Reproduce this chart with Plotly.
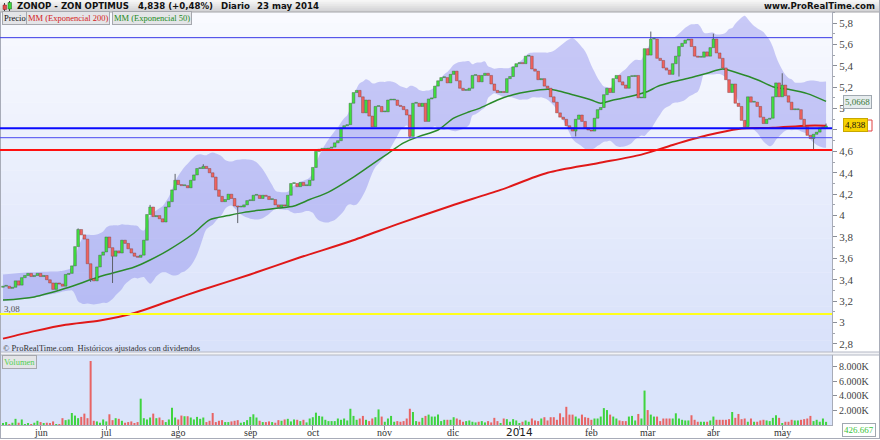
import numpy as np
import pandas as pd
import plotly.graph_objects as go

# ---------------- data ----------------
closes = [
    3.34, 3.34, 3.32, 3.33, 3.39, 3.35, 3.42, 3.44, 3.46, 3.43,
    3.44, 3.46, 3.43, 3.44, 3.40, 3.37, 3.31, 3.37, 3.36, 3.34,
    3.45, 3.46, 3.53, 3.71, 3.87, 3.82, 3.78, 3.55, 3.41, 3.39,
    3.52, 3.63, 3.66, 3.80, 3.70, 3.62, 3.67, 3.65, 3.77, 3.74,
    3.69, 3.65, 3.62, 3.61, 3.63, 3.77, 4.01, 4.08, 3.99, 4.00,
    3.97, 3.94, 4.08, 4.13,
    4.24, 4.33, 4.29, 4.28, 4.28, 4.26, 4.33, 4.38, 4.44, 4.44,
    4.46, 4.44, 4.40, 4.36, 4.24, 4.18, 4.13, 4.15, 4.20, 4.16,
    4.09, 4.08, 4.08, 4.10, 4.14, 4.14, 4.19, 4.19, 4.16, 4.19,
    4.18, 4.15, 4.15, 4.10, 4.08, 4.10, 4.09, 4.19, 4.30, 4.30,
    4.27, 4.31, 4.28, 4.28, 4.33, 4.45, 4.60, 4.62, 4.62, 4.62,
    4.63,
    4.64, 4.68, 4.70, 4.82, 4.84, 4.85, 5.05, 5.15, 5.17, 5.11,
    4.96, 5.08, 4.93, 4.83, 5.02, 5.02, 4.97, 4.97, 5.08, 5.08,
    5.08, 5.03, 5.02, 4.99, 4.94, 4.74, 5.05, 5.05, 5.02, 5.05,
    4.88, 5.09, 5.10, 5.21, 5.26, 5.29, 5.29, 5.24, 5.32, 5.35,
    5.26, 5.19, 5.17, 5.17, 5.19, 5.31, 5.31, 5.25, 5.31, 5.33,
    5.31, 5.23, 5.17, 5.15, 5.16, 5.15, 5.28, 5.30, 5.39, 5.42,
    5.43, 5.42, 5.49, 5.49, 5.37, 5.35, 5.27, 5.28, 5.21, 5.19,
    5.11, 5.06, 4.96, 4.92, 4.90, 4.84, 4.82, 4.79, 4.90, 4.94,
    4.88, 4.82, 4.80, 4.79, 4.91, 4.99, 5.01, 5.13, 5.19, 5.15,
    5.28, 5.31, 5.25, 5.22, 5.19, 5.30, 5.30, 5.31, 5.10, 5.10,
    5.56, 5.50, 5.65, 5.65, 5.47, 5.45, 5.38, 5.36, 5.32, 5.42,
    5.49, 5.58, 5.61, 5.64, 5.65, 5.58, 5.49, 5.48, 5.48, 5.53,
    5.49, 5.57, 5.65, 5.52, 5.47, 5.38, 5.27, 5.15, 5.23, 5.05,
    5.02, 4.89, 4.83, 5.11, 5.06, 5.06, 5.02, 4.92, 4.86, 4.90,
    4.91, 5.11, 5.24, 5.11, 5.22, 5.12, 5.06, 4.99, 4.99, 4.99,
    4.90, 4.83, 4.75, 4.72, 4.76, 4.78, 4.82, 4.82, 4.838,
]
first_open = 3.33
# notable wicks: index -> value
wick_high = {55: 4.39, 207: 5.72, 227: 5.70, 249: 5.33, 263: 4.86, 24: 3.88, 47: 4.10, 64: 4.48}
wick_low = {35: 3.37, 75: 3.93, 259: 4.61, 130: 4.72, 216: 5.30, 28: 3.38, 183: 4.74}

volumes_k = [
    222, 400, 133, 310, 842, 310, 754, 133, 222, 133,
    310, 576, 400, 222, 310, 222, 488, 133, 133, 931,
    665, 754, 1640, 1286, 931, 1108, 1552, 931, 8734, 576,
    488, 310, 754, 488, 1463, 665, 931, 842, 576, 310,
    400, 488, 222, 400, 3591, 931, 754, 1020, 1552, 931,
    1020, 665, 400, 754, 2350, 1020, 754, 1286, 1197, 1197,
    1020, 754, 1108, 842, 1020, 400, 576, 1640, 400, 576,
    665, 400, 400, 488, 576, 665, 310, 400, 665, 1108,
    1463, 1020, 576, 400, 400, 488, 400, 310, 665, 576,
    754, 842, 488, 754,
    709, 532, 709, 354, 886, 1063, 1683, 1240, 1152, 709,
    532, 532, 532, 886, 709, 886, 620, 2215, 1240, 709,
    886, 1240, 709, 532, 886, 1063, 2126, 1152, 443, 886,
    1240, 443, 532, 443, 532, 886, 2215, 1772, 532, 443,
    975, 1240, 1418, 1152, 1152, 1418, 532, 709, 709, 709,
    1063, 886, 709, 443, 532, 620, 443, 354, 443, 532,
    354, 532, 354, 975, 532, 177, 886, 797, 443, 797,
    620, 266, 443, 620, 443, 886, 620, 532, 886, 1063,
    620, 1063,
    1063, 709, 1595, 1063, 2481, 1418, 1418, 1152, 886, 1418,
    1063, 975, 709, 886, 886, 1152, 2304, 2038, 1418, 1152,
    886, 620, 532, 532, 1152, 1240, 620, 1506, 886, 4696,
    2038, 1418, 1152, 1152, 532, 886, 886, 886, 886, 1595,
    886, 709, 620, 620, 1329, 709, 443, 443, 443, 443,
    620, 1152, 709, 709, 709, 709, 797, 1772, 975, 1506,
    797, 886, 443, 886, 443, 443, 620, 709, 620, 532,
    975, 1329, 975, 177, 443, 443, 709, 620, 620, 709,
    797, 886, 1240, 532, 709, 443, 886, 426.667,
]

# moving averages (candle index, value)
ema200_idx = [0, 10, 20, 31, 42, 53, 63, 79, 95, 111, 127, 143, 159, 174, 190, 204, 214, 225, 235, 246, 257, 263]
ema200_val = [2.85, 2.92, 2.98, 3.02, 3.09, 3.20, 3.30, 3.45, 3.61, 3.76, 3.93, 4.09, 4.24, 4.40, 4.49, 4.57, 4.66, 4.75, 4.81, 4.82, 4.84, 4.84]
ema50_idx = [0, 10, 20, 31, 42, 47, 53, 61, 66, 72, 77, 82, 88, 93, 98, 104, 112, 117, 123, 128, 133, 139, 144,
             149, 152, 158, 163, 168, 174, 177, 182, 188, 191, 195, 200, 206, 209, 214, 220, 225, 230, 235, 241,
             246, 251, 257, 263]
ema50_val = [3.21, 3.24, 3.32, 3.43, 3.52, 3.585, 3.68, 3.835, 3.96, 4.00, 4.03, 4.05, 4.07, 4.09, 4.15, 4.22, 4.36,
             4.46, 4.58, 4.68, 4.74, 4.80, 4.91, 4.97, 5.00, 5.08, 5.13, 5.16, 5.18, 5.17, 5.13, 5.08, 5.05, 5.08,
             5.11, 5.16, 5.205, 5.25, 5.29, 5.33, 5.37, 5.33, 5.27, 5.205, 5.18, 5.14, 5.067]

# band (Bollinger 20) before enough history
early_band_idx = [0, 9, 18]
early_upper = [3.45, 3.47, 3.48]
early_lower = [3.20, 3.23, 3.28]

# horizontal drawn lines
line_top_blue = 5.663
line_thick_blue = 4.816
line_thin_blue = 4.728
line_red = 4.613
line_yellow = 3.08

tick_idx = [12, 33, 56, 79, 99, 122, 144, 165, 188, 206, 227, 249]
tick_labels = ["jun", "jul", "ago", "sep", "oct", "nov", "dic", "2014", "feb", "mar", "abr", "may"]
price_ticks = [2.8, 3.0, 3.2, 3.4, 3.6, 3.8, 4.0, 4.2, 4.4, 4.6, 4.8, 5.0, 5.2, 5.4, 5.6, 5.8]
price_tick_text = ["2,8", "3", "3,2", "3,4", "3,6", "3,8", "4", "4,2", "4,4", "4,6", "", "5", "5,2", "5,4", "5,6", "5,8"]
vol_ticks = [2000, 4000, 6000, 8000]
vol_tick_text = ["2.000K", "4.000K", "6.000K", "8.000K"]

# ---------------- derived ----------------
n = len(closes)
idx = list(range(n))
opens = [first_open] + closes[:-1]
highs = [max(o, c) for o, c in zip(opens, closes)]
lows = [min(o, c) for o, c in zip(opens, closes)]
for k, v in wick_high.items():
    if k < n:
        highs[k] = max(highs[k], v)
for k, v in wick_low.items():
    if k < n:
        lows[k] = min(lows[k], v)
up = [c >= o for o, c in zip(opens, closes)]
body_colors = ["#3fe03f" if u else "#f0625e" for u in up]
edge_colors = ["#3a4e3a" if u else "#6e3a3a" for u in up]
vol_colors = ["#3fd43f" if u else "#e86464" for u in up]
body_base = [min(o, c) for o, c in zip(opens, closes)]
body_h = [max(abs(c - o), 0.008) for o, c in zip(opens, closes)]
wick_x, wick_y = [], []
for i in idx:
    b0 = body_base[i]
    b1 = body_base[i] + body_h[i]
    if lows[i] < b0:
        wick_x += [i, i, None]
        wick_y += [lows[i], b0, None]
    if highs[i] > b1:
        wick_x += [i, i, None]
        wick_y += [b1, highs[i], None]

s = pd.Series(closes)
mid = s.rolling(20).mean()
sd = s.rolling(20).std(ddof=0)
upper = (mid + 2 * sd).tolist()
lower = (mid - 2 * sd).tolist()
band_x = early_band_idx + idx[19:]
band_up = early_upper + upper[19:]
band_lo = early_lower + lower[19:]

W, H = 880, 440
PLOT_R = 832


def px(x):
    return x / W


def py(y):
    return 1 - y / H


fig = go.Figure()
# indicators on the base price axis (drawn below the candles)
fig.add_trace(go.Scatter(x=band_x, y=band_up, mode="lines", line=dict(width=0, shape="spline"),
                         hoverinfo="skip", showlegend=False, xaxis="x", yaxis="y"))
fig.add_trace(go.Scatter(x=band_x, y=band_lo, mode="lines", line=dict(width=0, shape="spline"),
                         fill="tonexty", fillcolor="rgba(128,128,236,0.40)",
                         hoverinfo="skip", showlegend=False, xaxis="x", yaxis="y"))
fig.add_trace(go.Scatter(x=ema200_idx, y=ema200_val, mode="lines",
                         line=dict(color="#e01818", width=2, shape="spline", smoothing=0.8),
                         showlegend=False, xaxis="x", yaxis="y"))
fig.add_trace(go.Scatter(x=ema50_idx, y=ema50_val, mode="lines",
                         line=dict(color="#2a8a2a", width=1.5, shape="spline", smoothing=0.8),
                         showlegend=False, xaxis="x", yaxis="y"))
# candles on an overlaying axis so they sit above the band
fig.add_trace(go.Bar(x=idx, y=body_h, base=body_base, width=0.86,
                     marker=dict(color=body_colors, line=dict(color=edge_colors, width=0.4)),
                     showlegend=False, xaxis="x", yaxis="y3"))
fig.add_trace(go.Scatter(x=wick_x, y=wick_y, mode="lines", line=dict(color="#5c6068", width=1),
                         hoverinfo="skip", showlegend=False, xaxis="x", yaxis="y3"))
fig.add_trace(go.Bar(x=idx, y=volumes_k, marker=dict(color=vol_colors, line=dict(width=0)),
                     width=0.64, showlegend=False, xaxis="x2", yaxis="y2"))

shapes = []
# price panel gradient background
top, bot = 12, 352
N = 30
c0 = np.array([249, 250, 255])
c1 = np.array([217, 226, 250])
for k in range(N):
    y0 = top + (bot - top) * k / N
    y1 = top + (bot - top) * (k + 1) / N
    c = (c0 + (c1 - c0) * k / (N - 1)).astype(int)
    shapes.append(dict(type="rect", xref="paper", yref="paper", x0=0, x1=px(PLOT_R),
                       y0=py(y1), y1=py(y0) + 0.0005, fillcolor=f"rgb({c[0]},{c[1]},{c[2]})",
                       line=dict(width=0), layer="below"))
# header gradient
hc0 = np.array([246, 246, 246])
hc1 = np.array([212, 212, 214])
for k in range(6):
    y0 = 12 * k / 6
    y1 = 12 * (k + 1) / 6
    c = (hc0 + (hc1 - hc0) * k / 5).astype(int)
    shapes.append(dict(type="rect", xref="paper", yref="paper", x0=0, x1=1,
                       y0=py(y1), y1=py(y0) + 0.0005, fillcolor=f"rgb({c[0]},{c[1]},{c[2]})",
                       line=dict(width=0), layer="below"))
shapes.append(dict(type="line", xref="paper", yref="paper", x0=0, x1=1, y0=py(12), y1=py(12),
                   line=dict(color="#a4a4a8", width=1), layer="below"))
# volume panel background
shapes.append(dict(type="rect", xref="paper", yref="paper", x0=0, x1=px(PLOT_R), y0=py(425), y1=py(355),
                   fillcolor="#dae4fb", line=dict(width=0), layer="below"))
# separator between panels
shapes.append(dict(type="rect", xref="paper", yref="paper", x0=0, x1=1, y0=py(355), y1=py(352),
                   fillcolor="#f2f3f6", line=dict(width=0), layer="below"))
for yy in (352, 355):
    shapes.append(dict(type="line", xref="paper", yref="paper", x0=0, x1=1, y0=py(yy), y1=py(yy),
                       line=dict(color="#b4b8c4", width=1), layer="below"))
# outer borders
shapes.append(dict(type="line", xref="paper", yref="paper", x0=px(0.5), x1=px(0.5), y0=py(438), y1=py(12),
                   line=dict(color="#a8acb8", width=1), layer="above"))
shapes.append(dict(type="line", xref="paper", yref="paper", x0=0, x1=1, y0=py(438.5), y1=py(438.5),
                   line=dict(color="#a8acb8", width=1), layer="above"))
shapes.append(dict(type="line", xref="paper", yref="paper", x0=px(879.5), x1=px(879.5), y0=py(438), y1=py(0),
                   line=dict(color="#a8acb8", width=1), layer="above"))
# horizontal drawn lines
for val, col, wd in [(line_top_blue, "#3a3ae6", 1), (line_thick_blue, "#0a0aff", 2),
                     (line_thin_blue, "#4a4af0", 1), (line_red, "#ff1010", 2),
                     (line_yellow, "#ffff1a", 2)]:
    shapes.append(dict(type="line", xref="paper", yref="y", x0=0, x1=px(PLOT_R), y0=val, y1=val,
                       line=dict(color=col, width=wd), layer="above"))
# small candle icon in header
shapes.append(dict(type="line", xref="paper", yref="paper", x0=px(4.5), x1=px(4.5), y0=py(11), y1=py(3),
                   line=dict(color="#444", width=1)))
shapes.append(dict(type="rect", xref="paper", yref="paper", x0=px(3), x1=px(6.5), y0=py(9.5), y1=py(5),
                   fillcolor="#e24a4a", line=dict(color="#802020", width=0.5)))
shapes.append(dict(type="line", xref="paper", yref="paper", x0=px(9.5), x1=px(9.5), y0=py(11), y1=py(1),
                   line=dict(color="#444", width=1)))
shapes.append(dict(type="rect", xref="paper", yref="paper", x0=px(8), x1=px(11.5), y0=py(9), y1=py(2.5),
                   fillcolor="#3cd83c", line=dict(color="#206020", width=0.5)))
# red sliver of the hidden EMA200 price box, behind the yellow price box
shapes.append(dict(type="rect", xref="paper", yref="paper", x0=px(860), x1=px(872), y0=py(131), y1=py(120),
                   fillcolor="#ffffff", line=dict(color="#e04040", width=1), layer="above"))

SERIF = "Liberation Serif"
SANS = "DejaVu Sans"
ann = []


def label(text, x, y, size=9, color="#222", family=SERIF, xanchor="left", xref="paper", **kw):
    ann.append(dict(text=text, x=px(x) if xref == "paper" else x, y=py(y), xref=xref, yref="paper",
                    xanchor=xanchor, yanchor="middle", showarrow=False,
                    font=dict(size=size, color=color, family=family), **kw))


label("<b>ZONOP - ZON OPTIMUS</b>", 15, 6.5, size=8.6, color="#111", family=SANS)
label("<b>4,838 (+0,48%)</b>", 136, 6.5, size=8.6, color="#111", family=SANS)
label("<b>Diario</b>", 219, 6.5, size=8.6, color="#111", family=SANS)
label("<b>23 may 2014</b>", 255, 6.5, size=8.6, color="#111", family=SANS)
label("<b>www.ProRealTime.com</b>", 877, 6.5, size=8.6, color="#111", family=SANS, xanchor="right")
box = dict(bgcolor="#e4e5e8", bordercolor="#a6a8ae", borderwidth=1, borderpad=1)
label("Precio", 1.5, 18, size=8.5, color="#111", **box)
label("MM (Exponencial 200)", 26, 18, size=8.5, color="#d42020", **box)
label("MM (Exponencial 50)", 112, 18, size=8.5, color="#208a20", **box)
label("3,08", 2, 308.5, size=9, color="#555")
label("© ProRealTime.com  Históricos ajustados con dividendos", 1, 348, size=8.5, color="#333")
label("Volumen", 1.5, 362, size=8.5, color="#50d050", **box)
label("5,0668", 843, 102, size=9, color="#3b7a3b",
      bgcolor="#e6ecee", bordercolor="#a0a8b0", borderwidth=1, borderpad=1)
label("4,838", 843, 125.5, size=9, color="#111",
      bgcolor="#f7d200", bordercolor="#c8a800", borderwidth=1, borderpad=1)
label("426.667", 842, 429.5, size=9, color="#3cc43c",
      bgcolor="#ffffff", bordercolor="#a0a8b0", borderwidth=1, borderpad=1)
for ti, tl in zip(tick_idx, tick_labels):
    if tl == "2014":
        label(tl, ti, 432, size=10.5, color="#222", family="DejaVu Sans", xanchor="center", xref="x2")
    else:
        label(tl, ti, 432.5, size=10, color="#333", xanchor="center", xref="x2")

x_range = [-0.96, 264.9]
y_range = [2.725, 5.8 + (23 - 12) / 107]
fig.update_layout(
    width=W, height=H, margin=dict(l=0, r=0, t=0, b=0),
    paper_bgcolor="#ffffff", plot_bgcolor="rgba(0,0,0,0)",
    separators=",.", showlegend=False, hovermode=False, barmode="overlay",
    xaxis=dict(domain=[0, px(PLOT_R)], range=x_range, anchor="y", showticklabels=False,
               showgrid=False, zeroline=False, fixedrange=True),
    xaxis2=dict(domain=[0, px(PLOT_R)], range=x_range, anchor="y2", showgrid=False, zeroline=False,
                tickmode="array", tickvals=tick_idx, showticklabels=False, ticks="outside", ticklen=4,
                tickcolor="#8a8e98", showline=True, linecolor="#a8acb8"),
    yaxis=dict(domain=[py(352), py(12)], range=y_range,
               side="right", anchor="x", showgrid=False, zeroline=False,
               tickmode="array", tickvals=price_ticks, ticktext=price_tick_text,
               ticks="outside", ticklen=4, tickcolor="#8a8e98", showline=True, linecolor="#a8acb8",
               minor=dict(tickmode="linear", tick0=2.7, dtick=0.1, ticks="outside", ticklen=2,
                          tickcolor="#a0a4ae"),
               tickfont=dict(family=SERIF, size=11, color="#444")),
    yaxis3=dict(overlaying="y", range=y_range, anchor="x", visible=False, showgrid=False, zeroline=False),
    yaxis2=dict(domain=[py(425), py(355)], range=[0, 9550], side="right", anchor="x2",
                showgrid=False, zeroline=False, tickmode="array", tickvals=vol_ticks, ticktext=vol_tick_text,
                ticks="outside", ticklen=4, tickcolor="#8a8e98", showline=True, linecolor="#a8acb8",
                tickfont=dict(family=SERIF, size=10, color="#444")),
    shapes=shapes, annotations=ann,
)
fig.write_html("out.html", config={"displayModeBar": False},
               post_script="document.body.style.margin='0px';")
